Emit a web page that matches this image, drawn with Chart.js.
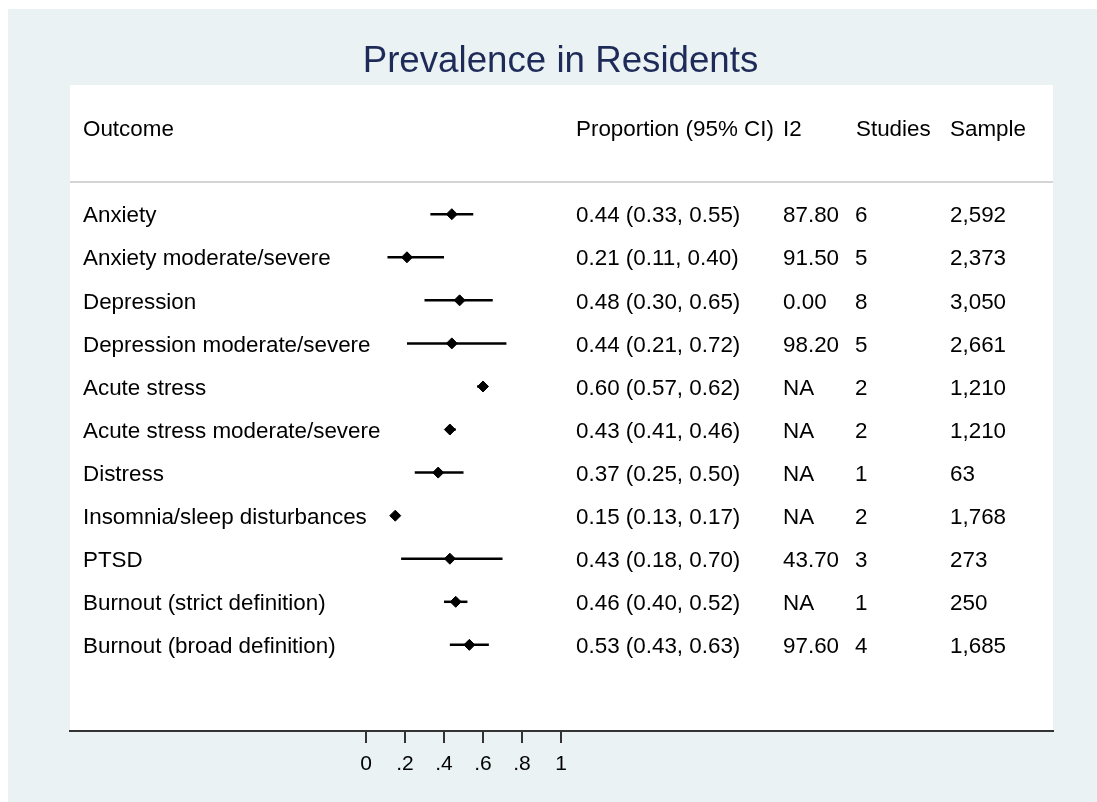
<!DOCTYPE html>
<html>
<head>
<meta charset="utf-8">
<script src="https://cdn.jsdelivr.net/npm/chart.js@4.4.0/dist/chart.umd.min.js"></script>
<style>
  html, body { margin: 0; padding: 0; background: #eaf2f3; overflow: hidden; }
  #wrap { width: 1097px; height: 802px; }
</style>
</head>
<body>
<div id="wrap"><canvas id="c"></canvas></div>
<script>
// 数据
var outcomes = ['Anxiety', 'Anxiety moderate/severe', 'Depression', 'Depression moderate/severe',
  'Acute stress', 'Acute stress moderate/severe', 'Distress', 'Insomnia/sleep disturbances',
  'PTSD', 'Burnout (strict definition)', 'Burnout (broad definition)'];
var est = [0.44, 0.21, 0.48, 0.44, 0.60, 0.43, 0.37, 0.15, 0.43, 0.46, 0.53];
var lo  = [0.33, 0.11, 0.30, 0.21, 0.57, 0.41, 0.25, 0.13, 0.18, 0.40, 0.43];
var hi  = [0.55, 0.40, 0.65, 0.72, 0.62, 0.46, 0.50, 0.17, 0.70, 0.52, 0.63];
var i2  = ['87.80', '91.50', '0.00', '98.20', 'NA', 'NA', 'NA', 'NA', '43.70', 'NA', '97.60'];
var studies = ['6', '5', '8', '5', '2', '2', '1', '2', '3', '1', '4'];
var sample = ['2,592', '2,373', '3,050', '2,661', '1,210', '1,210', '63', '1,768', '273', '250', '1,685'];
var xTicks = [0, 0.2, 0.4, 0.6, 0.8, 1];
var xTickLabels = ['0', '.2', '.4', '.6', '.8', '1'];
var headers = ['Outcome', 'Proportion (95% CI)', 'I2', 'Studies', 'Sample'];

var FONT = '"Liberation Sans", Arial, sans-serif';

function fmt(v) { return v.toFixed(2); }

// 点估计 + 每行一条置信区间线
var datasets = [{
  type: 'scatter',
  data: est.map(function(v, i) { return { x: v, y: i }; }),
  pointStyle: 'rectRot',
  pointRadius: 5.5,
  pointHoverRadius: 5.5,
  backgroundColor: '#000',
  borderColor: '#000',
  borderWidth: 1
}];
outcomes.forEach(function(o, i) {
  datasets.push({
    type: 'line',
    data: [{ x: lo[i], y: i }, { x: hi[i], y: i }],
    borderColor: '#000',
    borderWidth: 2.5,
    pointRadius: 0,
    fill: false
  });
});

// 背景、标题、表格文字
var forestPlugin = {
  id: 'forest',
  beforeDraw: function(chart) {
    var ctx = chart.ctx, a = chart.chartArea;
    ctx.save();
    ctx.fillStyle = '#eaf2f3';
    ctx.fillRect(0, 0, chart.width, chart.height);
    ctx.fillStyle = '#ffffff';
    ctx.fillRect(0, 0, chart.width, 9);
    ctx.fillRect(0, 0, 8, chart.height);
    ctx.fillRect(a.left, a.top, a.right - a.left, a.bottom - a.top);

    var ys = chart.scales.y;
    // 分隔线
    var sy = ys.getPixelForValue(-0.75);
    ctx.strokeStyle = '#d4d4d4';
    ctx.lineWidth = 2;
    ctx.beginPath();
    ctx.moveTo(a.left, sy);
    ctx.lineTo(a.right, sy);
    ctx.stroke();
    ctx.restore();
  },
  afterDraw: function(chart) {
    var ctx = chart.ctx, a = chart.chartArea;
    var ys = chart.scales.y;
    var cols = [a.left + 13, a.left + 506, a.left + 713, a.left + 786, a.left + 880];
    ctx.save();
    ctx.textBaseline = 'middle';

    ctx.fillStyle = '#1e2b58';
    ctx.font = '36.7px ' + FONT;
    ctx.textAlign = 'center';
    ctx.fillText('Prevalence in Residents', (a.left + a.right) / 2 - 1, 62);

    ctx.textAlign = 'left';
    ctx.fillStyle = '#000';
    ctx.font = '22.4px ' + FONT;
    var hy = ys.getPixelForValue(-2) + 2;
    headers.forEach(function(h, k) { ctx.fillText(h, cols[k], hy); });

    outcomes.forEach(function(o, i) {
      var y = ys.getPixelForValue(i) + 2;
      ctx.fillText(o, cols[0], y);
      ctx.fillText(fmt(est[i]) + ' (' + fmt(lo[i]) + ', ' + fmt(hi[i]) + ')', cols[1], y);
      ctx.fillText(i2[i], cols[2], y);
      ctx.fillText(studies[i], cols[3] - 1, y);
      ctx.fillText(sample[i], cols[4], y);
    });
    ctx.restore();
  }
};

new Chart(document.getElementById('c'), {
  data: { datasets: datasets },
  options: {
    responsive: true,
    maintainAspectRatio: false,
    animation: false,
    layout: { padding: { left: 70, right: 44, top: 85, bottom: 0 } },
    plugins: { legend: { display: false }, tooltip: { enabled: false }, title: { display: false } },
    scales: {
      x: {
        type: 'linear',
        min: -1.518,
        max: 3.523,
        afterBuildTicks: function(s) { s.ticks = xTicks.map(function(v) { return { value: v }; }); },
        afterFit: function(s) { s.height = 71; },
        border: { display: true, color: '#333', width: 2 },
        grid: { drawOnChartArea: false, drawTicks: true, tickLength: 12, color: '#333', lineWidth: 2 },
        ticks: {
          color: '#000',
          padding: 9,
          maxRotation: 0,
          autoSkip: false,
          font: { family: FONT, size: 21 },
          callback: function(v) { var k = xTicks.indexOf(v); return k >= 0 ? xTickLabels[k] : ''; }
        }
      },
      y: {
        type: 'linear',
        min: -3,
        max: 12,
        reverse: true,
        display: false
      }
    }
  },
  plugins: [forestPlugin]
});
</script>
</body>
</html>
